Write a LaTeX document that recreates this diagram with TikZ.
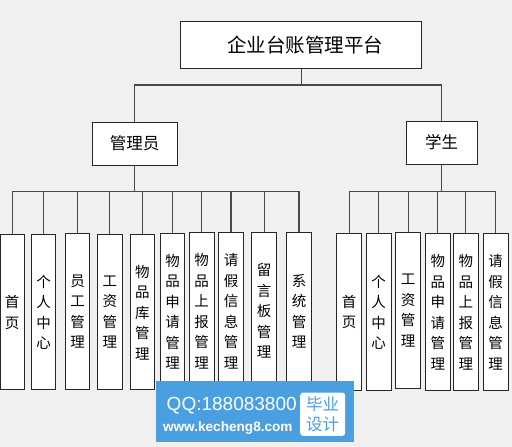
\documentclass[tikz,border=0pt]{standalone}
\usepackage{fontspec}
\newfontfamily\cjk{Noto Sans CJK SC}
\newfontfamily\wmfont{Liberation Sans}
\definecolor{bgc}{HTML}{F0F0F0}
\definecolor{wmblue}{HTML}{4A9FE0}
\definecolor{linec}{HTML}{4A4A4A}
\tikzset{
  box/.style={draw=black!85, line width=0.9pt, fill=white, inner sep=0pt},
  child/.style={box, anchor=north, minimum width=24.6pt, align=center,
     font=\cjk\fontsize{14.5}{20.5}\selectfont},
  conn/.style={draw=linec, line width=1.3pt}
}
\begin{document}
\begin{tikzpicture}[x=1pt,y=-1pt]
\useasboundingbox (0,0) rectangle (512,447);
\fill[bgc] (0,0) rectangle (512,447);
% root and second level
\node[box, minimum width=241pt, minimum height=46.7pt, font=\cjk\fontsize{19.5}{22}\selectfont] (root) at (301.2,44.7) {\hspace*{8pt}企业台账管理平台};
\node[box, minimum width=84.7pt, minimum height=43pt, font=\cjk\fontsize{16.5}{20}\selectfont] (admin) at (134.7,143.5) {管理员};
\node[box, minimum width=71.3pt, minimum height=43pt, font=\cjk\fontsize{16.5}{20}\selectfont] (stu) at (441.7,142.5) {学生};
\coordinate (busT) at (301.2,85);
\coordinate (busA) at (134.7,191.7);
\coordinate (busB) at (441.7,191.7);
% admin children
\node[child, minimum height=155pt, minimum width=24.3pt] (a1) at (12.2,234.3) {首\\页};
\node[child, minimum height=155pt] (a2) at (43.5,234.3) {个\\人\\中\\心};
\node[child, minimum height=156pt] (a3) at (77.5,233.3) {员\\工\\管\\理};
\node[child, minimum height=155.5pt] (a4) at (109.8,233.8) {工\\资\\管\\理};
\node[child, minimum height=155pt] (a5) at (142.3,234.3) {物\\品\\库\\管\\理};
\node[child, minimum height=156pt] (a6) at (172.5,233.3) {物\\品\\申\\请\\管\\理};
\node[child, minimum height=157pt] (a7) at (201.7,232.3) {物\\品\\上\\报\\管\\理};
\node[child, minimum height=157pt] (a8) at (231.0,232.3) {请\\假\\信\\息\\管\\理};
\node[child, minimum height=157pt] (a9) at (264.2,232.3) {留\\言\\板\\管\\理};
\node[child, minimum height=157pt] (a10) at (299.0,232.3) {系\\统\\管\\理};
% student children
\node[child, minimum height=156.7pt] (b1) at (349.2,233.3) {首\\页};
\node[child, minimum height=156.7pt] (b2) at (378.7,233.3) {个\\人\\中\\心};
\node[child, minimum height=156.6pt] (b3) at (408.2,231.7) {工\\资\\管\\理};
\node[child, minimum height=156.7pt] (b4) at (437.8,233.3) {物\\品\\申\\请\\管\\理};
\node[child, minimum height=156.7pt] (b5) at (465.8,233.3) {物\\品\\上\\报\\管\\理};
\node[child, minimum height=156.7pt] (b6) at (495.7,233.3) {请\\假\\信\\息\\管\\理};
% connectors
\draw[conn] (root.south) -- (busT);
\draw[conn] (admin.north) |- (busT) -| (stu.north);
\draw[conn] (admin.south) -- (busA);
\draw[conn] (stu.south) -- (busB);
\foreach \c in {a1,a2,a3,a4,a5,a6,a7,a8,a9,a10} {\draw[conn] (busA) -| (\c.north);}
\foreach \c in {b1,b2,b3,b4,b5,b6} {\draw[conn] (busB) -| (\c.north);}
% watermark
\node[fill=wmblue, inner sep=0pt, minimum width=198pt, minimum height=60.7pt, anchor=north west] (wm) at (156,381) {};
\node[fill=white, rounded corners=3pt, inner sep=0pt, minimum width=45pt, minimum height=43.4pt, anchor=north west, text=wmblue, align=center, font=\cjk\fontsize{16.5}{19.3}\selectfont] (wmbox) at (300,392.3) {毕业\\设计};
\node[text=white, inner sep=0pt, font=\wmfont\fontsize{19}{20}\selectfont] (wmqq) at (231.7,405.7) {QQ:188083800};
\node[text=white, inner sep=0pt, font=\wmfont\bfseries\fontsize{13.6}{15}\selectfont] (wmurl) at (227.8,427.7) {www.kecheng8.com};
\end{tikzpicture}
\end{document}
